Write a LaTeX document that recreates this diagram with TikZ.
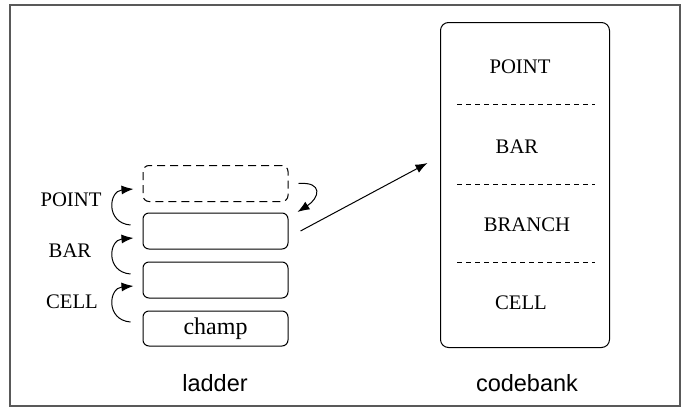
\documentclass[tikz,border=0pt]{standalone}
\usepackage{fontspec}
\setmainfont{Liberation Serif}
\setsansfont{Liberation Sans}
\usetikzlibrary{arrows.meta}
\tikzset{
  rung/.style={draw, line width=1pt, rounded corners=6pt, minimum width=145pt,
    minimum height=36pt, inner sep=0pt, font=\fontsize{24}{28}\selectfont},
  ghost/.style={rung, dashed, dash pattern=on 8pt off 5pt},
  bank/.style={draw, line width=1pt, rounded corners=8pt, minimum width=169pt,
    minimum height=325pt, inner sep=0pt},
  tag/.style={inner sep=0pt, font=\fontsize{20.7}{24}\selectfont},
  caption/.style={inner sep=0pt, font=\sffamily\fontsize{23.5}{28}\selectfont},
  sep/.style={line width=0.8pt, dash pattern=on 5pt off 4pt},
  link/.style={line width=1pt, -{Latex[length=12pt,width=9pt]}},
  frame/.style={draw=black!65, line width=1.3pt}
}
\begin{document}
\begin{tikzpicture}[x=1pt, y=-1pt]
  \useasboundingbox (0,0) rectangle (690,410);
  \draw[frame] (10,5) rectangle (680,406);

  % the ladder of rungs
  \node[ghost] (top) at (215.5,183.5) {};
  \node[rung]  (r2)  at (215.5,231) {};
  \node[rung]  (r3)  at (215.5,280) {};
  \node[rung, minimum height=35pt] (champ) at (215.5,328.5) {champ};

  % step labels
  \node[tag] (lpoint) at (71,200) {POINT};
  \node[tag] (lbar)   at (70,251) {BAR};
  \node[tag] (lcell)  at (72,302) {CELL};

  % climbing arcs on the left
  \draw[link] ([shift={(-12,-6)}]r2.west) .. controls +(-25,-2) and +(-25,2) .. ([shift={(-9,5.5)}]top.west);
  \draw[link] ([shift={(-12,-6)}]r3.west) .. controls +(-25,-2) and +(-25,2) .. ([shift={(-9,7)}]r2.west);
  \draw[link] ([shift={(-12,-6.5)}]champ.west) .. controls +(-25,-2) and +(-25,2) .. ([shift={(-9,6)}]r3.west);

  % return arc on the right
  \draw[link] ([xshift=10pt]top.east) .. controls +(25,-2) and +(22,-14) .. ([shift={(9,-19)}]r2.east);

  % the code bank
  \node[bank] (cb) at (525,185) {};
  \node[tag] (bpoint)  at (520,67)  {POINT};
  \node[tag] (bbar)    at (517,147) {BAR};
  \node[tag] (bbranch) at (527,225) {BRANCH};
  \node[tag] (bcell)   at (521,303) {CELL};
  \coordinate (s1a) at (457,104); \coordinate (s1b) at (595,104);
  \coordinate (s2a) at (457,184); \coordinate (s2b) at (595,184);
  \coordinate (s3a) at (457,262); \coordinate (s3b) at (595,262);
  \draw[sep] (s1a) -- (s1b);
  \draw[sep] (s2a) -- (s2b);
  \draw[sep] (s3a) -- (s3b);

  % link from the ladder to the bank
  \draw[link] ([xshift=12pt]r2.east) -- ([shift={(-12.5,-22)}]cb.west);

  % captions
  \node[caption] (cl) at (215,383) {ladder};
  \node[caption] (cc) at (527,383) {codebank};
\end{tikzpicture}
\end{document}
